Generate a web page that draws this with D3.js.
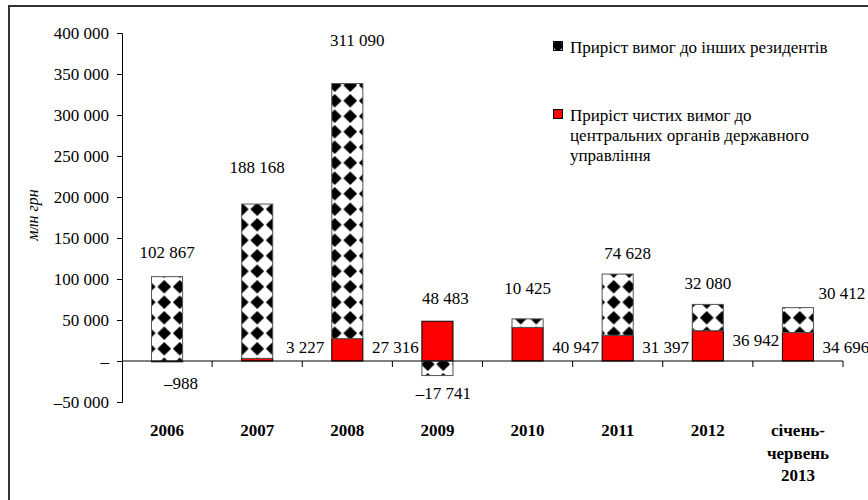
<!DOCTYPE html>
<html>
<head>
<meta charset="utf-8">
<script src="https://cdn.jsdelivr.net/npm/d3@7"></script>
<style>
  body { margin: 0; background: #fff; }
</style>
</head>
<body>
<svg id="chart" width="868" height="500"></svg>
<script>
'use strict'

// ------ data ------
const categories = ['2006', '2007', '2008', '2009', '2010', '2011', '2012', 'січень-\nчервень\n2013']
const centralGov = [-988, 3227, 27316, 48483, 40947, 31397, 36942, 34696]
const otherResidents = [102867, 188168, 311090, -17741, 10425, 74628, 32080, 30412]
const yTicks = [-50000, 0, 50000, 100000, 150000, 200000, 250000, 300000, 350000, 400000]
const seriesNames = ['Приріст вимог до інших резидентів', 'Приріст чистих вимог до\nцентральних органів державного\nуправління']

// small hand nudges for the data labels (they were dragged around in the original)
const otherLift = [25, 37, 43, 18, 31, 21, 21, 15]
const otherShift = [0, 0, 10, 6, 0, 10, 0, 44]

var FONT = '"Liberation Serif", "Times New Roman", Times, serif'
var svg = d3.select('#chart').attr('font-family', FONT)
var margin = { left: 122, right: 25, top: 33, bottom: 98 }
var width = 868, height = 500

var x = d3.scaleBand()
  .domain(categories)
  .range([margin.left, width - margin.right])
  .paddingInner(0.655)
  .paddingOuter(0.3275)

var y = d3.scaleLinear()
  .domain([-50000, 400000])
  .range([height - margin.bottom, margin.top])

var fmt = function (v) {
  if (v === 0) return '–'
  var s = d3.format(',')(Math.abs(v)).replace(/,/g, ' ')
  return (v < 0 ? '–' : '') + s
}

// ------ patterns ------
var defs = svg.append('defs')
function diamondPattern (id, ox, oy) {
  var p = defs.append('pattern')
    .attr('id', id)
    .attr('patternUnits', 'userSpaceOnUse')
    .attr('width', 15.5).attr('height', 15.5)
    .attr('x', ox).attr('y', oy)
  p.append('rect').attr('width', 15.5).attr('height', 15.5).attr('fill', '#fff')
  p.append('path').attr('d', 'M7.75,0.9L14.6,7.75L7.75,14.6L0.9,7.75Z').attr('fill', '#000')
}
diamondPattern('diamonds', 1.5, 0)
diamondPattern('diamondsLegend', 550.25, 37.75)

// ------ outer frame ------
svg.append('rect')
  .attr('x', 9).attr('y', 6)
  .attr('width', 880).attr('height', 520)
  .attr('fill', 'none')
  .attr('stroke', '#333')
  .attr('stroke-width', 2)

// ------ stacked bars ------
var rows = categories.map(function (c, i) {
  return { cat: c, central: centralGov[i], other: otherResidents[i] }
})
var stack = d3.stack()
  .keys(['central', 'other'])
  .offset(d3.stackOffsetDiverging)
var layers = stack(rows)

var fills = { central: '#ff0000', other: 'url(#diamonds)' }
var strokes = { central: '#000', other: '#555' }

svg.append('g').selectAll('g')
  .data(layers)
  .join('g')
  .attr('fill', function (d) { return fills[d.key] })
  .attr('stroke', function (d) { return strokes[d.key] })
  .attr('stroke-width', 1)
  .selectAll('rect')
  .data(function (d) { return d })
  .join('rect')
  .attr('x', function (d) { return x(d.data.cat) })
  .attr('width', x.bandwidth())
  .attr('y', function (d) { return y(Math.max(d[0], d[1])) })
  .attr('height', function (d) { return Math.abs(y(d[0]) - y(d[1])) })

// ------ axes ------
var yAxis = d3.axisLeft(y).tickValues(yTicks).tickSize(5).tickFormat(fmt)
var gy = svg.append('g')
  .attr('transform', 'translate(' + margin.left + ',0)')
  .call(yAxis)
  .attr('font-family', FONT)
  .attr('font-size', 17)
gy.select('.domain').attr('stroke', '#000')
gy.selectAll('text').attr('x', -13)

var gx = svg.append('g').attr('transform', 'translate(0,' + y(0) + ')')
gx.append('line')
  .attr('x1', margin.left).attr('x2', width - margin.right)
  .attr('stroke', '#000')
var bounds = categories.map(function (c) { return x(c) - x.step() * x.paddingOuter() })
bounds.push(width - margin.right)
gx.selectAll('.tk').data(bounds.slice(1))
  .join('line')
  .attr('x1', function (d) { return d }).attr('x2', function (d) { return d })
  .attr('y1', 0).attr('y2', 6)
  .attr('stroke', '#000')

// category labels
svg.append('g').selectAll('text')
  .data(categories)
  .join('text')
  .attr('text-anchor', 'middle')
  .attr('font-size', 17)
  .attr('font-weight', 'bold')
  .attr('transform', function (c) {
    return 'translate(' + (x(c) + x.bandwidth() / 2) + ',' + 436 + ')'
  })
  .selectAll('tspan')
  .data(function (c) { return c.split('\n') })
  .join('tspan')
  .attr('x', 0)
  .attr('dy', function (d, i) { return i === 0 ? 0 : 22.5 })
  .text(function (d) { return d })

// y axis title
svg.append('text')
  .attr('transform', 'translate(38,215) rotate(-90)')
  .attr('text-anchor', 'middle')
  .attr('font-size', 16)
  .attr('font-style', 'italic')
  .text('млн грн')

// ------ data labels ------
var lbl = svg.append('g').attr('font-size', 17).attr('text-anchor', 'middle')

rows.forEach(function (r, i) {
  var cx = x(r.cat) + x.bandwidth() / 2
  var top = y(Math.max(0, r.central) + Math.max(0, r.other))
  var bottom = y(Math.min(0, r.central) + Math.min(0, r.other))
  // other residents
  if (r.other >= 0) {
    lbl.append('text').attr('x', cx + otherShift[i]).attr('y', top - otherLift[i]).attr('dy', '0.35em').text(fmt(r.other))
  } else {
    lbl.append('text').attr('x', cx + otherShift[i]).attr('y', bottom + otherLift[i]).attr('dy', '0.35em').text(fmt(r.other))
  }
  // central government
  if (r.central < 0) {
    lbl.append('text').attr('x', cx + 14).attr('y', y(0) + 22).attr('dy', '0.35em').text(fmt(r.central))
  } else if (r.other < 0) {
    lbl.append('text').attr('x', cx + 8).attr('y', y(r.central) - 23).attr('dy', '0.35em').text(fmt(r.central))
  } else {
    var ly = r.central > 35000 && i > 5 ? y(0) - 21 : y(0) - 14
    lbl.append('text').attr('x', cx + 48).attr('y', ly).attr('dy', '0.35em').text(fmt(r.central))
  }
})

// ------ legend ------
var legend = svg.append('g').attr('font-size', 17)
var legY = [47, 115]
var legFill = ['url(#diamondsLegend)', '#ff0000']
seriesNames.forEach(function (name, i) {
  legend.append('rect')
    .attr('x', 553.5).attr('y', legY[i] - 5.5)
    .attr('width', 9).attr('height', 9)
    .attr('fill', legFill[i])
    .attr('stroke', '#000')
  var t = legend.append('text').attr('x', 570).attr('y', legY[i])
  t.selectAll('tspan')
    .data(name.split('\n'))
    .join('tspan')
    .attr('x', 570)
    .attr('dy', function (d, j) { return j === 0 ? '0.35em' : 20 })
    .text(function (d) { return d })
})
</script>
</body>
</html>
